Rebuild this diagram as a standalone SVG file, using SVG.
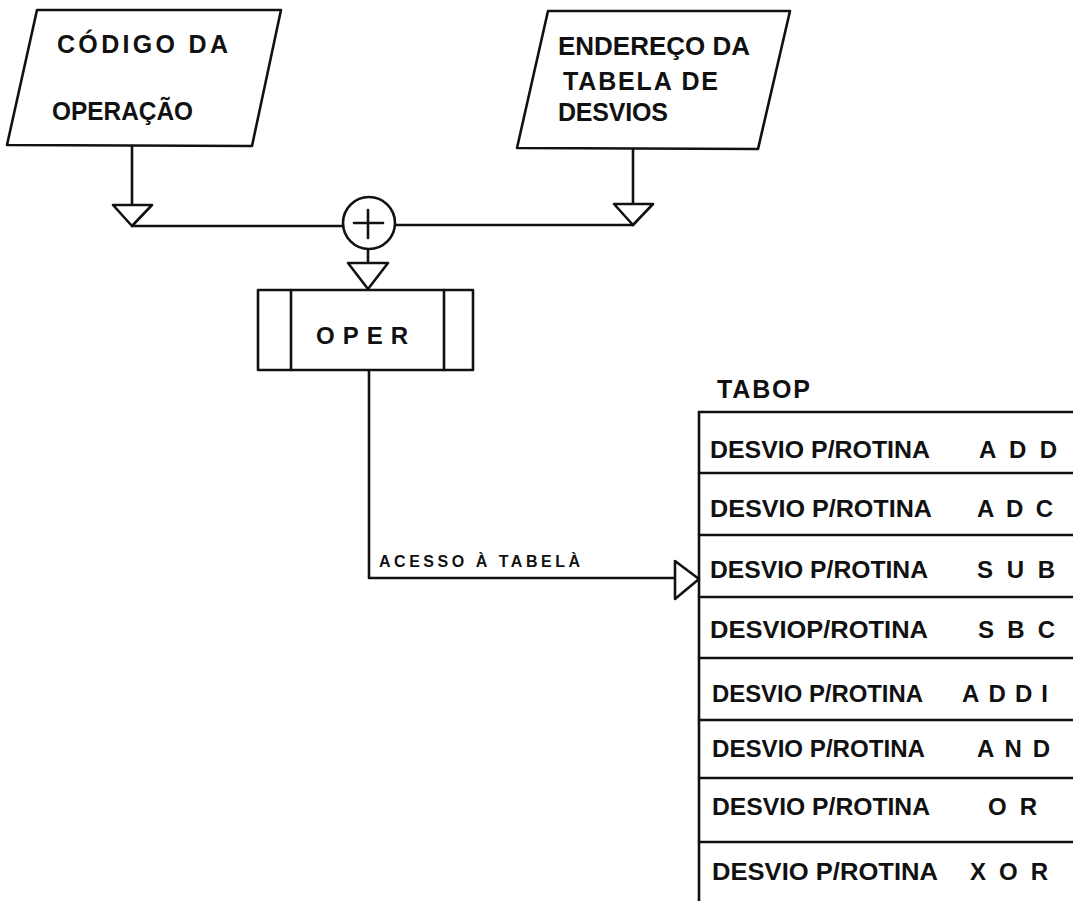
<svg xmlns="http://www.w3.org/2000/svg" width="1073" height="901" viewBox="0 0 1073 901">
<style>
.ln{fill:none;stroke:#111;stroke-width:2.6;stroke-linejoin:round;stroke-linecap:round}
.sh{fill:#fff;stroke:#111;stroke-width:2.6;stroke-linejoin:round}
.t{font-family:"Liberation Sans",Arial,sans-serif;font-weight:bold;fill:#111}
.big{font-size:25px}
.row{font-family:"Liberation Sans",Arial,sans-serif;font-weight:bold;font-size:24px;fill:#111}
</style>
<rect width="1073" height="901" fill="#fff"/>

<g id="connectors">
  <path class="ln" d="M132,145 V205"/>
  <path class="ln" d="M132,226 H343"/>
  <path class="ln" d="M633,148 V203"/>
  <path class="ln" d="M395,225 H633"/>
  <path class="ln" d="M368,249 V263"/>
  <path class="ln" d="M369,370 V578 H675"/>
  <polygon class="sh" points="113,205 152,205 132,226"/>
  <polygon class="sh" points="614,204 653,204 633,225"/>
  <polygon class="sh" points="348,263 388,263 368,289"/>
  <polygon class="sh" points="675,561 675,599 699,579"/>
  <text class="t" x="379" y="567" font-size="16" textLength="201" lengthAdjust="spacing">ACESSO À TABELÀ</text>
</g>

<g id="codigo">
  <polygon class="sh" points="37,10 281,10 252,146 7,145"/>
  <text class="t big" x="57" y="53" textLength="171" lengthAdjust="spacing">CÓDIGO DA</text>
  <text class="t big" x="52" y="120" textLength="141" lengthAdjust="spacingAndGlyphs">OPERAÇÃO</text>
</g>

<g id="endereco">
  <polygon class="sh" points="548,11 790,11 758,149 517,148"/>
  <text class="t big" x="558" y="55" textLength="192" lengthAdjust="spacingAndGlyphs">ENDEREÇO DA</text>
  <text class="t big" x="563" y="90" textLength="155" lengthAdjust="spacing">TABELA DE</text>
  <text class="t big" x="558" y="121" textLength="110" lengthAdjust="spacing">DESVIOS</text>
</g>

<g id="soma">
  <circle class="sh" cx="369" cy="223" r="26"/>
  <path class="ln" d="M354,223 H383 M368,210 V238"/>
</g>

<g id="oper">
  <rect class="sh" x="258" y="290" width="215" height="80"/>
  <path class="ln" d="M291,290 V370 M444,290 V370"/>
  <text class="t" x="316" y="344" font-size="24" textLength="92" lengthAdjust="spacing">OPER</text>
</g>

<g id="tabop">
  <text class="t big" x="717" y="398" textLength="93" lengthAdjust="spacing">TABOP</text>
  <path class="ln" d="M699,412 V905"/>
  <path class="ln" d="M699,412 H1075 M699,473 H1075 M699,535 H1075 M699,597 H1075 M699,658 H1075 M699,720 H1075 M699,778 H1075 M699,842 H1075"/>
  <text class="row" x="710" y="458" textLength="220" lengthAdjust="spacingAndGlyphs">DESVIO P/ROTINA</text>
  <text class="row" x="979" y="458" textLength="78" lengthAdjust="spacing">A D D</text>
  <text class="row" x="710" y="517" textLength="222" lengthAdjust="spacingAndGlyphs">DESVIO P/ROTINA</text>
  <text class="row" x="977" y="517" textLength="76" lengthAdjust="spacing">A D C</text>
  <text class="row" x="710" y="578" textLength="218" lengthAdjust="spacingAndGlyphs">DESVIO P/ROTINA</text>
  <text class="row" x="977" y="578" textLength="78" lengthAdjust="spacing">S U B</text>
  <text class="row" x="710" y="638" textLength="218" lengthAdjust="spacingAndGlyphs">DESVIOP/ROTINA</text>
  <text class="row" x="978" y="638" textLength="77" lengthAdjust="spacing">S B C</text>
  <text class="row" x="712" y="702" textLength="211" lengthAdjust="spacingAndGlyphs">DESVIO P/ROTINA</text>
  <text class="row" x="962" y="702" textLength="86" lengthAdjust="spacing">ADDI</text>
  <text class="row" x="712" y="757" textLength="213" lengthAdjust="spacingAndGlyphs">DESVIO P/ROTINA</text>
  <text class="row" x="977" y="757" textLength="73" lengthAdjust="spacing">A N D</text>
  <text class="row" x="712" y="815" textLength="218" lengthAdjust="spacingAndGlyphs">DESVIO P/ROTINA</text>
  <text class="row" x="988" y="815" textLength="49" lengthAdjust="spacing">O R</text>
  <text class="row" x="712" y="880" textLength="226" lengthAdjust="spacingAndGlyphs">DESVIO P/ROTINA</text>
  <text class="row" x="970" y="880" textLength="78" lengthAdjust="spacing">X O R</text>
</g>
</svg>
